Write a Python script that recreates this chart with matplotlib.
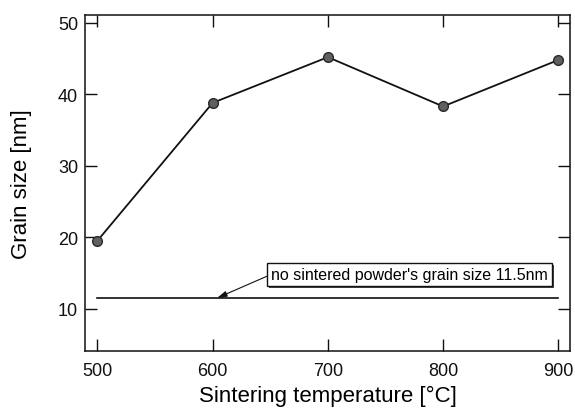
import matplotlib
matplotlib.use("Agg")
import matplotlib.pyplot as plt
import matplotlib.patheffects as pe

plt.rcParams["font.family"] = ["Liberation Sans", "DejaVu Sans"]

# --- Data ---
temps = [500, 600, 700, 800, 900]
grain_size = [19.5, 38.8, 45.2, 38.3, 44.8]
powder_size = 11.5
x_ticks = [500, 600, 700, 800, 900]
y_ticks = [10, 20, 30, 40, 50]

fig = plt.figure(figsize=(5.75, 4.1), dpi=100)
ax = fig.add_axes([0.148, 0.142, 0.843, 0.819])

ax.plot(temps, grain_size, color="#111111", lw=1.3, marker="o", ms=7,
        mfc="#606060", mec="#2a2a2a", mew=1.0, zorder=3)

# reference line for the unsintered powder
ax.plot([temps[0], temps[-1]], [powder_size, powder_size], color="#111111", lw=1.2)

txt = ax.annotate("no sintered powder's grain size 11.5nm",
                  xy=(604, powder_size), xytext=(771, 14.8),
                  ha="center", va="center", fontsize=11.5,
                  bbox=dict(boxstyle="square,pad=0.25", fc="white", ec="#111111", lw=1.0),
                  arrowprops=dict(arrowstyle="-|>,head_length=0.5,head_width=0.15",
                                  color="#111111", lw=0.8, relpos=(0, 0.5),
                                  shrinkA=0, shrinkB=0))
txt.get_bbox_patch().set_path_effects([
    pe.SimplePatchShadow(offset=(1.5, -1.5), shadow_rgbFace="#444444", alpha=1.0),
    pe.Normal(),
])

ax.set_xlim(489.3, 910)
ax.set_ylim(4.1, 51.1)
ax.set_xticks(x_ticks)
ax.set_yticks(y_ticks)
ax.tick_params(direction="in", length=8.5, width=1.0, labelsize=13,
               top=True, right=True, colors="#111111")
ax.tick_params(axis="x", pad=8)
ax.tick_params(axis="y", pad=5)
for s in ax.spines.values():
    s.set_linewidth(1.1)
    s.set_color("#111111")

ax.set_xlabel("Sintering temperature [°C]", fontsize=16, labelpad=4)
ax.set_ylabel("Grain size [nm]", fontsize=16, labelpad=19)

fig.savefig("out.png", dpi=100)
